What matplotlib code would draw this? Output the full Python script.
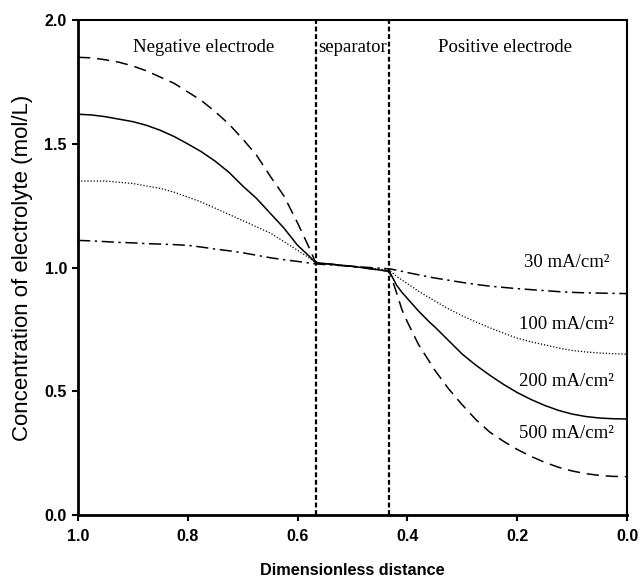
import matplotlib.pyplot as plt
import numpy as np

# dimensionless distance (1.0 = negative current collector, 0.0 = positive)
x = [1.0, 0.975, 0.95, 0.925, 0.9, 0.875, 0.85, 0.825, 0.8, 0.775,
     0.75, 0.725, 0.7, 0.675, 0.65, 0.625, 0.6, 0.583, 0.567,
     0.5, 0.433,
     0.42, 0.41, 0.4, 0.38, 0.36, 0.35, 0.325, 0.3, 0.275, 0.25,
     0.225, 0.2, 0.175, 0.15, 0.125, 0.1, 0.075, 0.05, 0.025, 0.0]

# electrolyte concentration (mol/L) for each current density
c_500 = [1.85, 1.848, 1.84, 1.83, 1.815, 1.795, 1.77, 1.745, 1.71, 1.675,
         1.63, 1.58, 1.52, 1.455, 1.37, 1.29, 1.18, 1.10, 1.02,
         1.005, 0.985,
         0.90, 0.83, 0.78, 0.69, 0.62, 0.585, 0.51, 0.445, 0.385, 0.335,
         0.298, 0.265, 0.237, 0.213, 0.193, 0.178, 0.167, 0.16, 0.156, 0.155]
c_200 = [1.62, 1.617, 1.61, 1.60, 1.59, 1.575, 1.555, 1.53, 1.50, 1.468,
         1.43, 1.385, 1.33, 1.28, 1.22, 1.16, 1.09, 1.055, 1.02,
         1.005, 0.985,
         0.93, 0.90, 0.875, 0.825, 0.78, 0.76, 0.705, 0.65, 0.605, 0.565,
         0.528, 0.495, 0.467, 0.443, 0.423, 0.408, 0.398, 0.392, 0.389, 0.388]
c_100 = [1.35, 1.35, 1.35, 1.345, 1.34, 1.33, 1.32, 1.305, 1.285, 1.265,
         1.24, 1.215, 1.19, 1.165, 1.14, 1.105, 1.07, 1.045, 1.02,
         1.005, 0.99,
         0.965, 0.95, 0.935, 0.905, 0.878, 0.865, 0.833, 0.805, 0.78, 0.757,
         0.735, 0.715, 0.70, 0.688, 0.675, 0.665, 0.659, 0.655, 0.652, 0.65]
c_30 = [1.11, 1.108, 1.105, 1.102, 1.10, 1.097, 1.095, 1.093, 1.09, 1.083,
        1.075, 1.068, 1.06, 1.05, 1.04, 1.032, 1.025, 1.02, 1.015,
        1.005, 0.995,
        0.99, 0.985, 0.98, 0.971, 0.962, 0.958, 0.949, 0.94, 0.932, 0.925,
        0.92, 0.915, 0.911, 0.907, 0.903, 0.90, 0.898, 0.897, 0.896, 0.895]

labels = ["30 mA/cm²", "100 mA/cm²", "200 mA/cm²", "500 mA/cm²"]
label_y = [1.02, 0.77, 0.54, 0.33]
separator_x = [0.567, 0.433]
regions = ["Negative electrode", "separator", "Positive electrode"]
region_x = [0.772, 0.5, 0.222]

serif = 'Liberation Serif'
sans = 'Liberation Sans'

fig = plt.figure(figsize=(6.41, 5.78), dpi=100)
ax = fig.add_axes([0.1217, 0.109, 0.8565, 0.856])

ax.plot(x, c_500, color='black', lw=1.1, linestyle=(0, (8, 4.5)))
ax.plot(x, c_200, color='black', lw=1.1, linestyle='-')
ax.plot(x, c_100, color='black', lw=0.9, linestyle=(0, (1, 1.5)))
ax.plot(x, c_30, color='black', lw=1.1, linestyle=(0, (8, 3, 1.5, 3)))

for sx in separator_x:
    ax.axvline(sx, color='black', lw=1.6, linestyle=(0, (2.2, 1.2)))

for lab, ly in zip(labels, label_y):
    ax.text(0.11, ly, lab, fontsize=13.5, family=serif, ha='center', va='center')

for reg, rx in zip(regions, region_x):
    ax.text(rx, 1.89, reg, fontsize=13.5, family=serif, ha='center', va='center')

ax.set_xlim(1.0, 0.0)
ax.set_ylim(0.0, 2.0)
ax.set_xticks([1.0, 0.8, 0.6, 0.4, 0.2, 0.0])
ax.set_yticks([0.0, 0.5, 1.0, 1.5, 2.0])
ax.set_xticklabels(["%.1f" % t for t in ax.get_xticks()], family=sans,
                   fontweight='bold', fontsize=11.5)
ax.set_yticklabels(["%.1f" % t for t in ax.get_yticks()], family=sans,
                   fontweight='bold', fontsize=11.5)
ax.tick_params(direction='out', length=4, width=1.5, pad=4)
ax.tick_params(axis='x', pad=6)

for side in ['left', 'bottom']:
    ax.spines[side].set_linewidth(2)
for side in ['top', 'right']:
    ax.spines[side].set_linewidth(1.5)

ax.set_xlabel("Dimensionless distance", family=sans, fontweight='bold',
              fontsize=11.7, labelpad=14)
ax.set_ylabel("Concentration of electrolyte (mol/L)", family=sans,
              fontsize=16, labelpad=8)

fig.savefig("out.png", dpi=100)
